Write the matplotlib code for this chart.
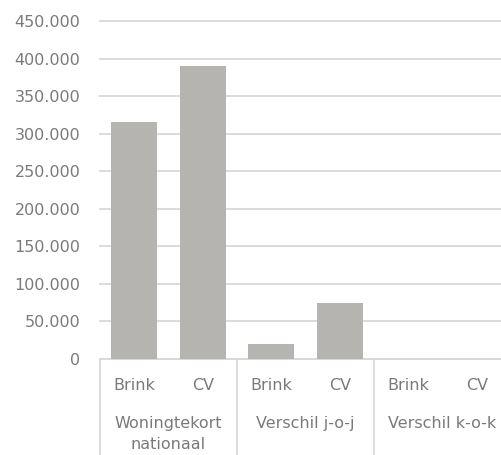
import matplotlib
matplotlib.use("Agg")
import matplotlib.pyplot as plt
from matplotlib.ticker import FuncFormatter, MultipleLocator

groups = ["Woningtekort\nnationaal", "Verschil j-o-j", "Verschil k-o-k"]
series = ["Brink", "CV"]
brink = [316000, 20000, 0]
cv = [390000, 75000, 0]

bar_color = "#b5b4b0"
text_color = "#7a7a7a"
grid_color = "#d9d9d9"
font = "DejaVu Sans"
fs = 11.5

fig = plt.figure(figsize=(5.02, 4.55), dpi=100)
ax = fig.add_axes([100/502, (455-359)/455, 411/502, 338/455])

values = []
labels = []
for b, c in zip(brink, cv):
    values += [b, c]
    labels += series
x = list(range(len(values)))
ax.bar(x, values, width=0.67, color=bar_color, zorder=3)

ax.set_xlim(-0.5, len(values) - 0.5)
ax.set_ylim(0, 450000)
ax.yaxis.set_major_locator(MultipleLocator(50000))
ax.yaxis.set_major_formatter(FuncFormatter(lambda v, p: f"{int(v):,}".replace(",", ".")))
ax.grid(axis="y", color=grid_color, linewidth=1.3, zorder=0)
for gl in ax.get_ygridlines():
    gl.set_clip_on(False)
for s in ["top", "right", "left"]:
    ax.spines[s].set_visible(False)
ax.spines["bottom"].set_color(grid_color)
ax.spines["bottom"].set_linewidth(1.3)
ax.tick_params(axis="y", length=0, pad=14, labelsize=fs, labelcolor=text_color)
ax.tick_params(axis="x", length=0)
ax.set_xticks([])
for lab in ax.get_yticklabels():
    lab.set_fontfamily(font)

trans = ax.get_xaxis_transform()
for xi, lab in zip(x, labels):
    ax.text(xi, -0.077, lab, transform=trans, ha="center", va="center",
            fontsize=fs, color=text_color, family=font, clip_on=False)
for gi, g in enumerate(groups):
    ax.text(2*gi + 0.5, -0.168, g, transform=trans, ha="center", va="top",
            fontsize=fs, color=text_color, family=font, clip_on=False,
            linespacing=1.5)
for sx in [-0.5, 1.5, 3.5, 5.5]:
    ax.plot([sx, sx], [0, -0.3], transform=trans, color=grid_color,
            linewidth=1.3, clip_on=False)

fig.savefig("out.png", dpi=100)
